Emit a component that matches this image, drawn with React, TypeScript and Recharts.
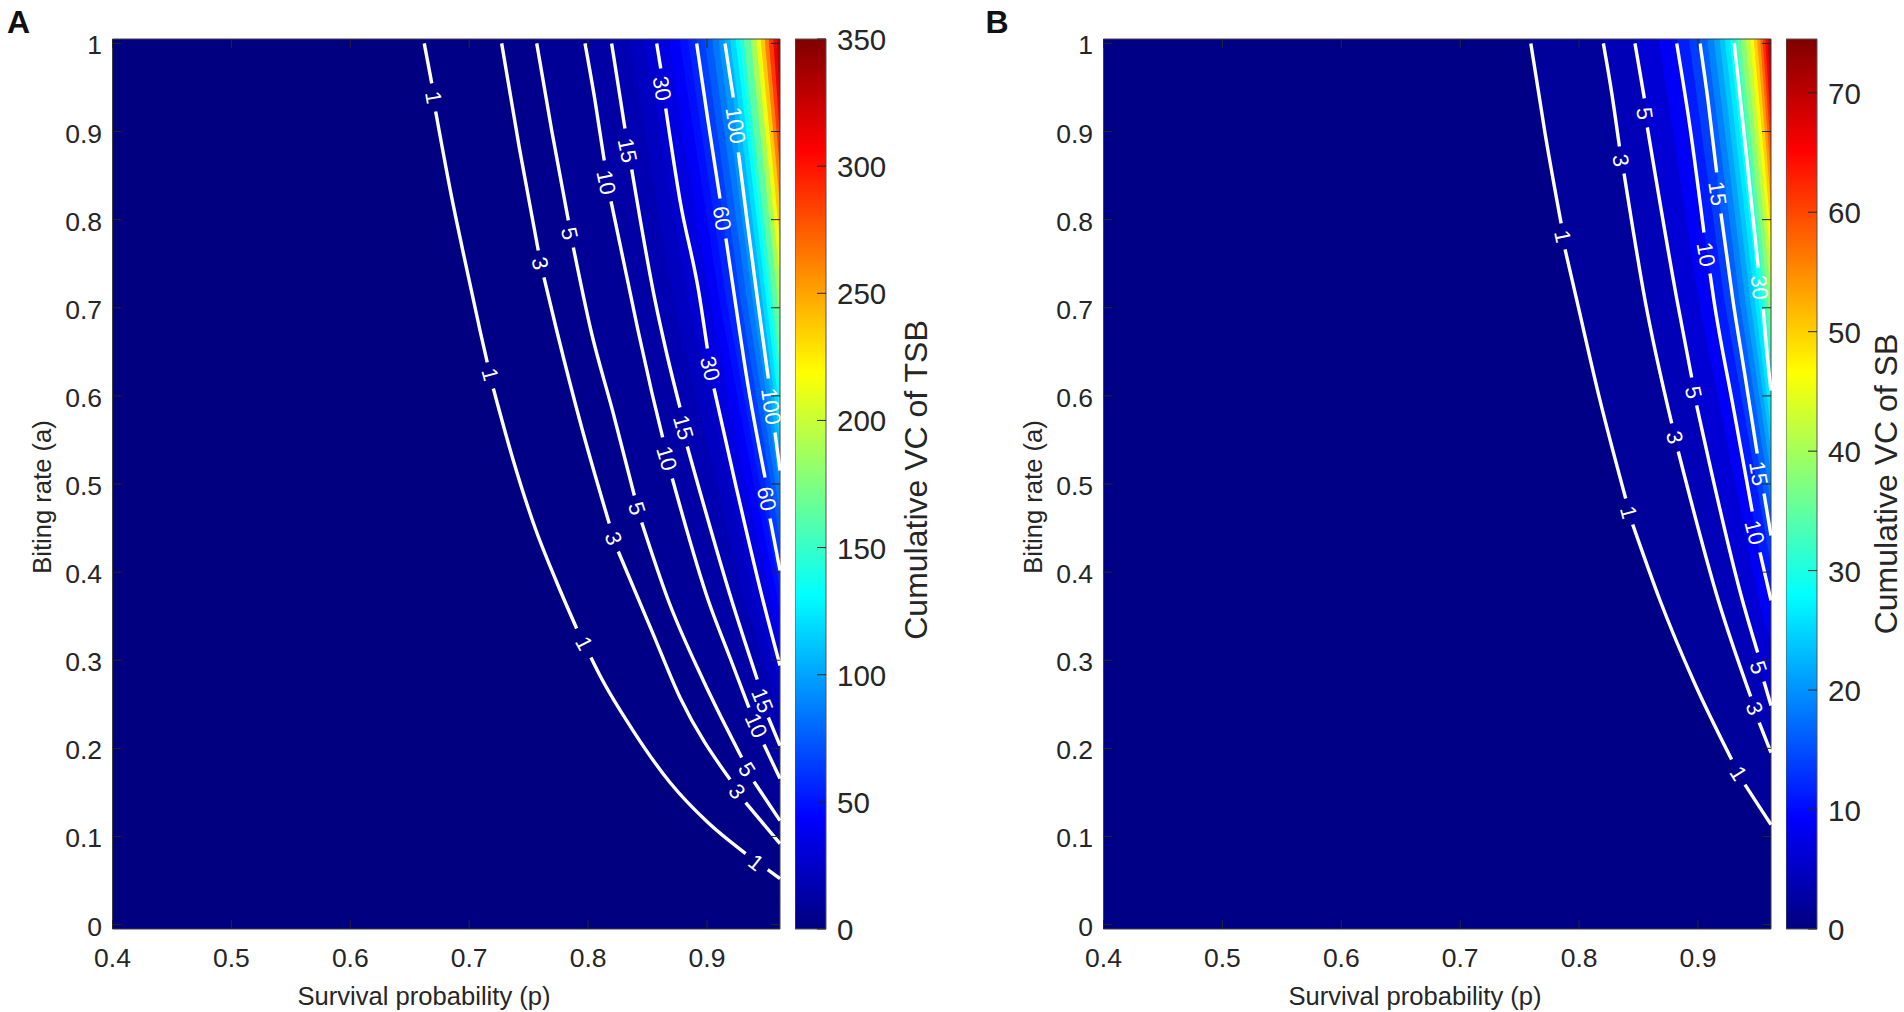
import {
  Area,
  Bar,
  BarChart,
  ComposedChart,
  Line,
  ReferenceArea,
  Scatter,
  XAxis,
  YAxis,
} from "recharts";

type Pair = number[];
type Level = { value: number; segments: Pair[][] };
type Label = { p: number; a: number; text: string; angle: number };

const xTicks = [0.4, 0.5, 0.6, 0.7, 0.8, 0.9];
const yTicks = [0, 0.1, 0.2, 0.3, 0.4, 0.5, 0.6, 0.7, 0.8, 0.9, 1];
const xDomain = [0.4, 0.9614];
const yDomain = [-0.005, 1.005];

const barTicksA = [0, 50, 100, 150, 200, 250, 300, 350];
const barTicksB = [0, 10, 20, 30, 40, 50, 60, 70];
const barMaxA = 350;
const barMaxB = 74.5;

// Panel A contours, [p, a], one list per piece between the inline labels
const contourA1 = [
  [[0.6622, 1], [0.6685, 0.9546]],
  [[0.6718, 0.9228], [0.6853, 0.8252], [0.6973, 0.748], [0.7091, 0.6742], [0.7152, 0.6379]],
  [[0.7203, 0.6084], [0.7371, 0.5267], [0.7553, 0.4506], [0.773, 0.3905], [0.7904, 0.336]],
  [[0.8024, 0.3031], [0.81, 0.2826], [0.8378, 0.2202], [0.8689, 0.1612], [0.9008, 0.1158], [0.9325, 0.0806]],
  [[0.9511, 0.0624], [0.9614, 0.0522]],
];
const contourA3 = [
  [[0.7273, 1], [0.7421, 0.882], [0.7581, 0.765]],
  [[0.7629, 0.7344], [0.7736, 0.6742], [0.7946, 0.5641], [0.8178, 0.4552]],
  [[0.8254, 0.4234], [0.8535, 0.3337], [0.8773, 0.2577], [0.9194, 0.1646]],
  [[0.9325, 0.1385], [0.9614, 0.0919]],
];
const contourA5 = [
  [[0.7568, 1], [0.7694, 0.9012], [0.7834, 0.7991]],
  [[0.7876, 0.7684], [0.8024, 0.6742], [0.8212, 0.58], [0.8389, 0.4869]],
  [[0.8451, 0.4563], [0.8675, 0.3678], [0.8969, 0.277], [0.9292, 0.1896]],
  [[0.9395, 0.1623], [0.9614, 0.118]],
];
const contourA10 = [
  [[0.7974, 1], [0.8058, 0.9353], [0.8136, 0.8672]],
  [[0.8193, 0.8207], [0.842, 0.6742], [0.8538, 0.6027], [0.8627, 0.5528]],
  [[0.8708, 0.5062], [0.9011, 0.3678], [0.9193, 0.3031], [0.9353, 0.2463]],
  [[0.9479, 0.2043], [0.9614, 0.1657]],
];
const contourA15 = [
  [[0.8198, 1], [0.831, 0.9035]],
  [[0.8367, 0.857], [0.8563, 0.7083], [0.8661, 0.6481], [0.8773, 0.5868]],
  [[0.8834, 0.5426], [0.9208, 0.3678], [0.9423, 0.2781]],
  [[0.9516, 0.235], [0.9614, 0.2032]],
];
const contourA30 = [
  [[0.8577, 1], [0.8611, 0.9716]],
  [[0.8653, 0.9262], [0.8773, 0.8218], [0.8933, 0.7162], [0.9003, 0.6538]],
  [[0.9059, 0.6084], [0.9252, 0.4926], [0.9471, 0.3678], [0.9614, 0.294]],
];
const contourA60 = [
  [[0.8913, 1], [0.9008, 0.9126], [0.9109, 0.8241]],
  [[0.9159, 0.7787], [0.9236, 0.7083], [0.9345, 0.6118], [0.9488, 0.5074]],
  [[0.953, 0.4608], [0.9614, 0.4018]],
];
const contourA100 = [
  [[0.9151, 1], [0.9221, 0.9387]],
  [[0.9264, 0.8763], [0.9337, 0.7991], [0.9418, 0.7162], [0.9516, 0.6197]],
  [[0.9572, 0.5585], [0.9614, 0.5153]],
];

const labelsA: Label[] = [
  { p: 0.67, a: 0.9387, text: "1", angle: 80 },
  { p: 0.7175, a: 0.6243, text: "1", angle: 75 },
  { p: 0.7966, a: 0.319, text: "1", angle: 62 },
  { p: 0.9412, a: 0.0704, text: "1", angle: 38 },
  { p: 0.7595, a: 0.7503, text: "3", angle: 76 },
  { p: 0.8212, a: 0.4381, text: "3", angle: 70 },
  { p: 0.9252, a: 0.151, text: "3", angle: 52 },
  { p: 0.7844, a: 0.7843, text: "5", angle: 77 },
  { p: 0.8409, a: 0.4722, text: "5", angle: 72 },
  { p: 0.9336, a: 0.1759, text: "5", angle: 58 },
  { p: 0.8151, a: 0.8422, text: "10", angle: 78 },
  { p: 0.8661, a: 0.529, text: "10", angle: 73 },
  { p: 0.9412, a: 0.2259, text: "10", angle: 66 },
  { p: 0.833, a: 0.8785, text: "15", angle: 78 },
  { p: 0.8801, a: 0.5641, text: "15", angle: 74 },
  { p: 0.9465, a: 0.2543, text: "15", angle: 68 },
  { p: 0.8621, a: 0.9489, text: "30", angle: 80 },
  { p: 0.9025, a: 0.6311, text: "30", angle: 76 },
  { p: 0.9126, a: 0.8014, text: "60", angle: 81 },
  { p: 0.9502, a: 0.4832, text: "60", angle: 78 },
  { p: 0.924, a: 0.9069, text: "100", angle: 82 },
  { p: 0.9538, a: 0.588, text: "100", angle: 82 },
];

const shadeA: Level[] = [
  { value: 20, segments: [[[0.8355, 1], [0.8722, 0.7083], [0.9317, 0.3678], [0.9614, 0.238]]] },
  { value: 25, segments: [[[0.8477, 1], [0.8845, 0.7083], [0.9402, 0.3678], [0.9614, 0.2701]]] },
  { value: 37, segments: [[[0.8678, 1], [0.9028, 0.7083], [0.931, 0.5074], [0.9614, 0.3266]]] },
  { value: 45, segments: [[[0.8774, 1], [0.9105, 0.7083], [0.9384, 0.5074], [0.9614, 0.357]]] },
  { value: 52, segments: [[[0.8844, 1], [0.9163, 0.7083], [0.9435, 0.5074], [0.9614, 0.3796]]] },
  { value: 70, segments: [[[0.8985, 1], [0.9282, 0.7083], [0.9614, 0.4361]]] },
  { value: 80, segments: [[[0.9047, 1], [0.9336, 0.7083], [0.9614, 0.4657]]] },
  { value: 90, segments: [[[0.9102, 1], [0.9384, 0.7083], [0.9614, 0.4919]]] },
  { value: 112, segments: [[[0.9198, 1], [0.9614, 0.5465]]] },
  { value: 125, segments: [[[0.9244, 1], [0.9614, 0.577]]] },
  { value: 137, segments: [[[0.9278, 1], [0.9614, 0.604]]] },
  { value: 150, segments: [[[0.9311, 1], [0.9614, 0.632]]] },
  { value: 175, segments: [[[0.937, 1], [0.9614, 0.683]]] },
  { value: 200, segments: [[[0.9416, 1], [0.9614, 0.73]]] },
  { value: 225, segments: [[[0.9454, 1], [0.9614, 0.775]]] },
  { value: 250, segments: [[[0.9488, 1], [0.9614, 0.816]]] },
  { value: 275, segments: [[[0.9521, 1], [0.9614, 0.856]]] },
  { value: 300, segments: [[[0.9559, 1], [0.9614, 0.894]]] },
  { value: 325, segments: [[[0.9589, 1], [0.9614, 0.931]]] },
  { value: 345, segments: [[[0.9605, 1], [0.9614, 0.959]]] },
];

// Panel B contours
const contourB1 = [
  [[0.7594, 1], [0.7714, 0.8978], [0.7849, 0.7957]],
  [[0.7882, 0.7662], [0.7981, 0.7083], [0.8176, 0.5948], [0.8392, 0.4835]],
  [[0.8451, 0.454], [0.8681, 0.3678], [0.8961, 0.277], [0.9283, 0.1873]],
  [[0.9395, 0.1589], [0.9614, 0.1135]],
];
const contourB3 = [
  [[0.8204, 1], [0.8275, 0.9433], [0.8339, 0.8831]],
  [[0.8378, 0.8524], [0.8555, 0.7083], [0.8779, 0.5687]],
  [[0.8834, 0.5369], [0.9171, 0.3678], [0.9443, 0.2588]],
  [[0.9515, 0.2293], [0.9614, 0.1952]],
];
const contourB5 = [
  [[0.847, 1], [0.8549, 0.9376]],
  [[0.8574, 0.9047], [0.8824, 0.7083], [0.8947, 0.6209]],
  [[0.8989, 0.5891], [0.9374, 0.3678], [0.9502, 0.3087]],
  [[0.9555, 0.2758], [0.9614, 0.2486]],
];
const contourB10 = [
  [[0.8821, 1], [0.8933, 0.9047], [0.905, 0.7855]],
  [[0.9101, 0.7389], [0.9134, 0.7083], [0.9294, 0.5891], [0.9456, 0.4688]],
  [[0.9521, 0.4223], [0.9614, 0.3678]],
];
const contourB15 = [
  [[0.9017, 1], [0.9084, 0.9353], [0.9157, 0.8536]],
  [[0.9193, 0.807], [0.9294, 0.7083], [0.9395, 0.6232], [0.9498, 0.5346]],
  [[0.9555, 0.4892], [0.9614, 0.4415]],
];
const contourB30 = [
  [[0.9305, 1], [0.9403, 0.8785], [0.9507, 0.7457]],
  [[0.9549, 0.6981], [0.9591, 0.6345], [0.9614, 0.6061]],
];

const labelsB: Label[] = [
  { p: 0.7861, a: 0.7809, text: "1", angle: 78 },
  { p: 0.8416, a: 0.4677, text: "1", angle: 75 },
  { p: 0.9339, a: 0.1714, text: "1", angle: 58 },
  { p: 0.8349, a: 0.8672, text: "3", angle: 80 },
  { p: 0.8803, a: 0.5528, text: "3", angle: 75 },
  { p: 0.9475, a: 0.2452, text: "3", angle: 70 },
  { p: 0.855, a: 0.9205, text: "5", angle: 82 },
  { p: 0.8962, a: 0.6039, text: "5", angle: 78 },
  { p: 0.9508, a: 0.2917, text: "5", angle: 72 },
  { p: 0.9067, a: 0.7605, text: "10", angle: 80 },
  { p: 0.9475, a: 0.4449, text: "10", angle: 76 },
  { p: 0.9164, a: 0.8297, text: "15", angle: 82 },
  { p: 0.9508, a: 0.5119, text: "15", angle: 80 },
  { p: 0.9517, a: 0.723, text: "30", angle: 84 },
];

const shadeB: Level[] = [
  { value: 7.5, segments: [[[0.8675, 1], [0.9005, 0.7083], [0.9514, 0.3678], [0.9614, 0.3183]]] },
  { value: 12.5, segments: [[[0.8929, 1], [0.9222, 0.7083], [0.9614, 0.4083]]] },
  { value: 17.5, segments: [[[0.9081, 1], [0.9349, 0.7083], [0.9614, 0.478]]] },
  { value: 20, segments: [[[0.9137, 1], [0.9397, 0.7083], [0.9614, 0.5098]]] },
  { value: 22.5, segments: [[[0.9185, 1], [0.944, 0.7083], [0.9614, 0.5378]]] },
  { value: 25, segments: [[[0.9229, 1], [0.9478, 0.7083], [0.9614, 0.5628]]] },
  { value: 27.5, segments: [[[0.9269, 1], [0.9512, 0.7083], [0.9614, 0.5854]]] },
  { value: 33, segments: [[[0.9332, 1], [0.9614, 0.65]]] },
  { value: 36, segments: [[[0.9361, 1], [0.9614, 0.679]]] },
  { value: 40, segments: [[[0.9403, 1], [0.9614, 0.716]]] },
  { value: 44, segments: [[[0.9441, 1], [0.9614, 0.751]]] },
  { value: 48, segments: [[[0.9471, 1], [0.9614, 0.784]]] },
  { value: 52, segments: [[[0.95, 1], [0.9614, 0.816]]] },
  { value: 56, segments: [[[0.9525, 1], [0.9614, 0.847]]] },
  { value: 60, segments: [[[0.9546, 1], [0.9614, 0.877]]] },
  { value: 64, segments: [[[0.9567, 1], [0.9614, 0.906]]] },
  { value: 68, segments: [[[0.9588, 1], [0.9614, 0.934]]] },
  { value: 72, segments: [[[0.9605, 1], [0.9614, 0.961]]] },
];

const jetStops = [
  { at: 0, rgb: [0, 0, 128] },
  { at: 0.125, rgb: [0, 0, 255] },
  { at: 0.375, rgb: [0, 255, 255] },
  { at: 0.625, rgb: [255, 255, 0] },
  { at: 0.875, rgb: [255, 0, 0] },
  { at: 1, rgb: [128, 0, 0] },
];

const FONT = "'Liberation Sans', Arial, sans-serif";
const INK = "#262626";
const PLOT_LEFT = 132.5;
const PLOT_RIGHT = 800;
const PLOT_TOP = 39;
const PLOT_BOTTOM = 929;

function jet(v: number) {
  const t = Math.min(1, Math.max(0, v));
  for (let i = 1; i < jetStops.length; i++) {
    const lo = jetStops[i - 1];
    const hi = jetStops[i];
    if (t <= hi.at) {
      const k = (t - lo.at) / (hi.at - lo.at);
      const c = lo.rgb.map((x, j) => Math.round(x + (hi.rgb[j] - x) * k));
      return `rgb(${c[0]},${c[1]},${c[2]})`;
    }
  }
  return "rgb(128,0,0)";
}

const toPoints = (pairs: Pair[]) => pairs.map(([p, a]) => ({ p, a }));

// Filled region left of / below one contour, up to the top edge of the plot
function bandPoints(level: Level) {
  const pairs = level.segments.flat();
  return toPoints([[xDomain[0], yDomain[1]], [pairs[0][0], yDomain[1]], ...pairs]);
}

function XTick({ x, payload }: any) {
  return (
    <g>
      <line x1={x} x2={x} y1={PLOT_BOTTOM} y2={PLOT_BOTTOM - 9} stroke={INK} />
      <line x1={x} x2={x} y1={PLOT_TOP} y2={PLOT_TOP + 9} stroke={INK} />
      <text x={x} y={967} textAnchor="middle" fontSize={26.5} fontFamily={FONT} fill={INK}>
        {String(payload.value)}
      </text>
    </g>
  );
}

function YTick({ y, payload }: any) {
  return (
    <g>
      <line x1={PLOT_LEFT} x2={PLOT_LEFT + 9} y1={y} y2={y} stroke={INK} />
      <line x1={PLOT_RIGHT - 9} x2={PLOT_RIGHT} y1={y} y2={y} stroke={INK} />
      <text x={PLOT_LEFT - 10.5} y={y + 11} textAnchor="end" fontSize={26.5} fontFamily={FONT} fill={INK}>
        {String(payload.value)}
      </text>
    </g>
  );
}

function ContourLabel({ cx, cy, payload }: any) {
  return (
    <text
      x={cx}
      y={cy}
      transform={`rotate(${payload.angle} ${cx} ${cy})`}
      textAnchor="middle"
      dominantBaseline="central"
      fontSize={22}
      fontFamily={FONT}
      fill="#fff"
    >
      {payload.text}
    </text>
  );
}

type PanelProps = {
  letter: string;
  letterX: number;
  left: number;
  max: number;
  contours: Level[];
  shades: Level[];
  labels: Label[];
};

function Panel({ letter, letterX, left, max, contours, shades, labels }: PanelProps) {
  const sorted = [...contours, ...shades].sort((m, n) => m.value - n.value);
  const bands = sorted.map((level, i) => ({
    id: level.value,
    color: jet((level.value + (i > 0 ? sorted[i - 1].value : 0)) / 2 / max),
    points: bandPoints(level),
  }));
  const top = sorted[sorted.length - 1].value;
  const topBand = toPoints([[xDomain[0], yDomain[1]], [xDomain[1], yDomain[1]]]);

  return (
    <div style={{ position: "absolute", left, top: 0 }}>
      <ComposedChart width={810} height={1012} margin={{ top: 39, right: 10, bottom: 23, left: 72.5 }}>
        <XAxis
          type="number"
          dataKey="p"
          domain={xDomain}
          ticks={xTicks}
          interval={0}
          height={60}
          axisLine={false}
          tickLine={false}
          tick={<XTick />}
        />
        <YAxis
          type="number"
          dataKey="a"
          domain={yDomain}
          ticks={yTicks}
          interval={0}
          width={60}
          axisLine={false}
          tickLine={false}
          tick={<YTick />}
        />
        <Area
          data={topBand}
          dataKey="a"
          type="linear"
          baseValue="dataMin"
          stroke="none"
          fill={jet((top + max) / 2 / max)}
          fillOpacity={1}
          isAnimationActive={false}
        />
        {[...bands].reverse().map((band) => (
          <Area
            key={band.id}
            data={band.points}
            dataKey="a"
            type="linear"
            baseValue="dataMin"
            stroke="none"
            fill={band.color}
            fillOpacity={1}
            isAnimationActive={false}
          />
        ))}
        {contours.flatMap((level) =>
          level.segments.map((segment, i) => (
            <Line
              key={`${level.value}-${i}`}
              data={toPoints(segment)}
              dataKey="a"
              type="monotone"
              stroke="#fff"
              strokeWidth={3.4}
              dot={false}
              activeDot={false}
              isAnimationActive={false}
            />
          )),
        )}
        <Scatter data={labels} shape={<ContourLabel />} isAnimationActive={false} />
        <ReferenceArea
          x1={xDomain[0]}
          x2={xDomain[1]}
          y1={yDomain[0]}
          y2={yDomain[1]}
          fill="none"
          stroke="#404040"
          strokeWidth={1}
        />
        <text x={letterX} y={33} fontSize={32} fontWeight="bold" fontFamily={FONT} fill="#111">
          {letter}
        </text>
        <text x={444} y={1005} textAnchor="middle" fontSize={25.6} fontFamily={FONT} fill={INK}>
          Survival probability (p)
        </text>
        <text
          x={71}
          y={497}
          transform="rotate(-90 71 497)"
          textAnchor="middle"
          fontSize={25.6}
          fontFamily={FONT}
          fill={INK}
        >
          Biting rate (a)
        </text>
      </ComposedChart>
    </div>
  );
}

function BarTick({ y, payload }: any) {
  return (
    <g>
      <line x1={22} x2={31} y1={y} y2={y} stroke={INK} />
      <text x={42} y={y + 11} fontSize={29.5} fontFamily={FONT} fill={INK}>
        {String(payload.value)}
      </text>
    </g>
  );
}

type ColorBarProps = {
  id: string;
  left: number;
  width: number;
  max: number;
  ticks: number[];
  title: string;
  titleX: number;
  titleY: number;
};

function ColorBar({ id, left, width, max, ticks, title, titleX, titleY }: ColorBarProps) {
  const barData = [{ name: title, top: max }];
  return (
    <div style={{ position: "absolute", left, top: 0 }}>
      <BarChart
        width={width}
        height={1012}
        data={barData}
        barCategoryGap={0}
        margin={{ top: 39, right: 0, bottom: 83, left: 0 }}
      >
        <defs>
          <linearGradient id={id} x1="0" y1="1" x2="0" y2="0">
            {jetStops.map((stop) => (
              <stop key={stop.at} offset={stop.at} stopColor={jet(stop.at)} />
            ))}
          </linearGradient>
        </defs>
        <XAxis dataKey="name" hide />
        <YAxis
          orientation="right"
          type="number"
          domain={[0, max]}
          ticks={ticks}
          interval={0}
          width={width - 31}
          axisLine={false}
          tickLine={false}
          tick={<BarTick />}
        />
        <Bar dataKey="top" fill={`url(#${id})`} stroke="#555" strokeWidth={1} isAnimationActive={false} />
        <text
          x={titleX}
          y={titleY}
          transform={`rotate(-90 ${titleX} ${titleY})`}
          textAnchor="middle"
          fontSize={32}
          fontFamily={FONT}
          fill={INK}
        >
          {title}
        </text>
      </BarChart>
    </div>
  );
}

const contoursA: Level[] = [
  { value: 1, segments: contourA1 },
  { value: 3, segments: contourA3 },
  { value: 5, segments: contourA5 },
  { value: 10, segments: contourA10 },
  { value: 15, segments: contourA15 },
  { value: 30, segments: contourA30 },
  { value: 60, segments: contourA60 },
  { value: 100, segments: contourA100 },
];
const contoursB: Level[] = [
  { value: 1, segments: contourB1 },
  { value: 3, segments: contourB3 },
  { value: 5, segments: contourB5 },
  { value: 10, segments: contourB10 },
  { value: 15, segments: contourB15 },
  { value: 30, segments: contourB30 },
];

export default function App() {
  return (
    <div
      style={{
        position: "absolute",
        left: 0,
        top: 0,
        width: 1904,
        height: 1012,
        overflow: "hidden",
        background: "#fff",
      }}
    >
      <Panel letter="A" letterX={27} left={-20} max={barMaxA} contours={contoursA} shades={shadeA} labels={labelsA} />
      <Panel letter="B" letterX={14.5} left={970.5} max={barMaxB} contours={contoursB} shades={shadeB} labels={labelsB} />
      <ColorBar id="jetA" left={795} width={161} max={barMaxA} ticks={barTicksA} title="Cumulative VC of TSB" titleX={132} titleY={480} />
      <ColorBar id="jetB" left={1785.5} width={118.5} max={barMaxB} ticks={barTicksB} title="Cumulative VC of SB" titleX={111} titleY={484} />
    </div>
  );
}
